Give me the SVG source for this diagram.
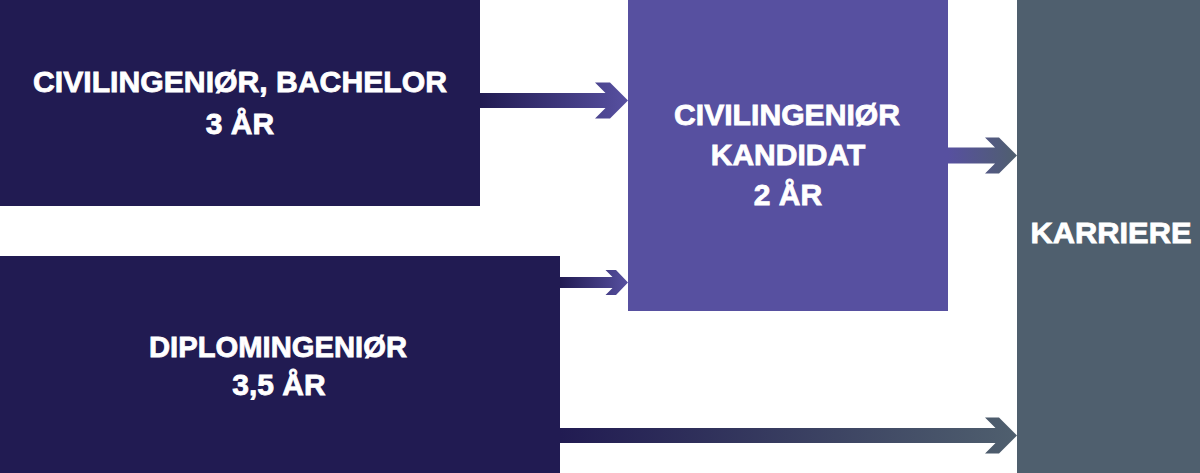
<svg xmlns="http://www.w3.org/2000/svg" width="1200" height="473" viewBox="0 0 1200 473">
  <defs>
    <linearGradient id="gNP" x1="0" x2="1" y1="0" y2="0"><stop offset="0" stop-color="#211b52"/><stop offset="1" stop-color="#5750a0"/></linearGradient>
    <linearGradient id="gPG" x1="0" x2="1" y1="0" y2="0"><stop offset="0" stop-color="#5750a0"/><stop offset="1" stop-color="#4f5f6e"/></linearGradient>
    <linearGradient id="gNG" x1="0" x2="1" y1="0" y2="0"><stop offset="0" stop-color="#211b52"/><stop offset="1" stop-color="#4f5f6e"/></linearGradient>
  </defs>
  <style>
    .lbl { font-family: "Liberation Sans", Arial, sans-serif; font-weight: bold; font-size: 30px; fill: #ffffff; stroke: #ffffff; stroke-width: 0.8px; text-anchor: middle; }
    .navy { fill: #211b52; }
    .purple { fill: #5750a0; }
    .gray { fill: #4f5f6e; }
  </style>
  <rect width="1200" height="473" fill="#ffffff"/>
  <g id="connectors">
    <polygon fill="url(#gNP)" points="480,93 605.5,93 595,82.5 610,82.5 628,100.5 610,118.5 595,118.5 605.5,108 480,108"/>
    <polygon fill="url(#gNP)" points="560,277 612.5,277 605.5,270 616,270 628,282.5 616,295 605.5,295 612.5,288 560,288"/>
    <polygon fill="url(#gPG)" points="948,147.5 995,147.5 985,137.5 999,137.5 1017,155.5 999,173.5 985,173.5 995,163.5 948,163.5"/>
    <polygon fill="url(#gNG)" points="560,428 995.5,428 985,417.5 999,417.5 1017,435.5 999,453.5 985,453.5 995.5,443 560,443"/>
  </g>
  <g id="bachelor">
    <rect class="navy" x="0" y="0" width="480" height="206"/>
    <text class="lbl" x="240" y="92" textLength="414" lengthAdjust="spacingAndGlyphs">CIVILINGENIØR, BACHELOR</text>
    <text class="lbl" x="240" y="134">3 ÅR</text>
  </g>
  <g id="diplom">
    <rect class="navy" x="0" y="256" width="560" height="217"/>
    <text class="lbl" x="278" y="357" textLength="258" lengthAdjust="spacingAndGlyphs">DIPLOMINGENIØR</text>
    <text class="lbl" x="279" y="395">3,5 ÅR</text>
  </g>
  <g id="kandidat">
    <rect class="purple" x="628" y="0" width="320" height="311"/>
    <text class="lbl" x="787" y="125" textLength="226" lengthAdjust="spacingAndGlyphs">CIVILINGENIØR</text>
    <text class="lbl" x="788" y="165">KANDIDAT</text>
    <text class="lbl" x="788" y="205">2 ÅR</text>
  </g>
  <g id="karriere">
    <rect class="gray" x="1017" y="0" width="183" height="473"/>
    <text class="lbl" x="1111" y="243" textLength="161" lengthAdjust="spacingAndGlyphs">KARRIERE</text>
  </g>
</svg>
